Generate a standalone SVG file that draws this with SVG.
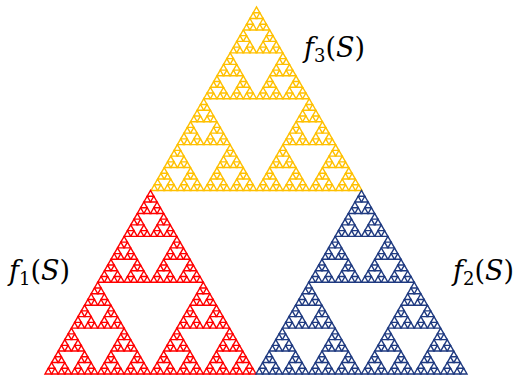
<svg xmlns="http://www.w3.org/2000/svg" xmlns:xlink="http://www.w3.org/1999/xlink" width="514" height="376" viewBox="0 0 514 376">
<style>
.tri{fill:none;stroke:currentColor;stroke-width:1.4;stroke-linejoin:miter}
.lbl{font-family:"DejaVu Serif","Liberation Serif",serif;font-size:27px;fill:#000}
.it{font-style:italic}
.sub{font-size:18px}
</style>
<defs>
<path id="L0" class="tri" d="M0,0 L6.594,0 L3.297,-5.734 Z"/>
<g id="L1"><use href="#L0"/><use href="#L0" x="6.594"/><use href="#L0" x="3.297" y="-5.734"/></g>
<g id="L2"><use href="#L1"/><use href="#L1" x="13.1875"/><use href="#L1" x="6.594" y="-11.469"/></g>
<g id="L3"><use href="#L2"/><use href="#L2" x="26.375"/><use href="#L2" x="13.1875" y="-22.9375"/></g>
<g id="L4"><use href="#L3"/><use href="#L3" x="52.75"/><use href="#L3" x="26.375" y="-45.875"/></g>
<g id="L5"><use href="#L4"/><use href="#L4" x="105.5"/><use href="#L4" x="52.75" y="-91.75"/></g>
</defs>
<rect width="514" height="376" fill="#fff"/>
<g id="f3" color="#FFC000"><use href="#L5" x="151" y="190.5"/></g>
<g id="f1" color="#FF0000"><use href="#L5" x="45" y="374"/></g>
<g id="f2" color="#1F3A80"><use href="#L5" x="256" y="374"/></g>
<g id="labels">
<text class="lbl" x="304" y="57"><tspan class="it">f</tspan><tspan class="sub" dy="5">3</tspan><tspan dy="-5">(</tspan><tspan class="it">S</tspan>)</text>
<text class="lbl" x="9" y="280"><tspan class="it">f</tspan><tspan class="sub" dy="5">1</tspan><tspan dy="-5">(</tspan><tspan class="it">S</tspan>)</text>
<text class="lbl" x="453" y="280"><tspan class="it">f</tspan><tspan class="sub" dy="5">2</tspan><tspan dy="-5">(</tspan><tspan class="it">S</tspan>)</text>
</g>
</svg>
